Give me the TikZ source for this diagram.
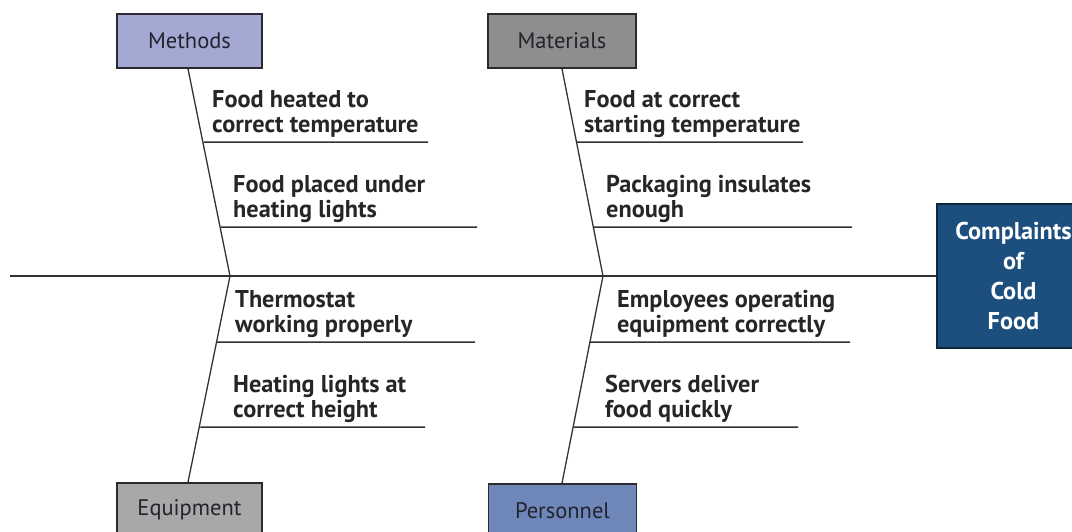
\documentclass[tikz,border=0pt]{standalone}
\usepackage{fontspec}
\setmainfont{PT Sans}
\definecolor{linecol}{HTML}{333333}
\definecolor{boxline}{HTML}{2A2A30}
\definecolor{methodsfill}{HTML}{A3A9D3}
\definecolor{materialsfill}{HTML}{8E8E8E}
\definecolor{equipfill}{HTML}{A8A8A8}
\definecolor{personnelfill}{HTML}{6E87B8}
\definecolor{goalfill}{HTML}{1C4E7E}
\definecolor{goalline}{HTML}{10263C}
\definecolor{labeltext}{HTML}{23232E}
\definecolor{causetext}{HTML}{262626}
\begin{document}
\begin{tikzpicture}[x=1pt,y=-1pt,
  catbox/.style={draw=boxline, line width=1.6pt, minimum width=145pt, minimum height=54pt, inner sep=0pt, text=labeltext, font=\fontsize{22.5}{25}\selectfont},
  cause/.style={anchor=south west, inner sep=0pt, align=left, text depth=0pt, text=causetext, font=\bfseries\fontsize{24.3}{25.5}\selectfont},
  bone/.style={draw=linecol, line width=1.3pt},
  rib/.style={draw=linecol, line width=1.5pt},
  spine/.style={draw=linecol, line width=2.8pt},
  goalbox/.style={draw=goalline, fill=goalfill, line width=1.6pt, minimum width=153pt, minimum height=144pt, inner sep=0pt, align=center, text=white, font=\bfseries\fontsize{24.3}{30}\selectfont}
]
\useasboundingbox (0,0) rectangle (1072,531);
\clip (0,0) rectangle (1072,531);
\fill[white] (0,0) rectangle (1072,531);

% category boxes
\node[catbox, fill=methodsfill] (methods) at (189.5,41) {Methods};
\node[catbox, fill=materialsfill, minimum width=148pt] (materials) at (562,41) {Materials};
\node[catbox, fill=equipfill] (equipment) at (189.5,510) {Equipment};
\node[catbox, fill=personnelfill, minimum width=148pt] (personnel) at (562.5,511) {Personnel};

% effect
\node[goalbox] (goal) at (1013.5,276) {Complaints\\of\\Cold\\Food};

% spine
\coordinate (tail) at (10,276);
\coordinate (j1) at (230,276);
\coordinate (j2) at (603,276);
\draw[spine] (tail) -- (goal.west);

% bones
\draw[bone] (methods.south -| 188,0) -- (j1) -- (equipment.north -| 188,0);
\draw[bone] (materials.south) -- (j2) -- (personnel.north -| 562,0);

% ribs: methods side
\coordinate (r1) at (intersection of methods.south--j1 and 0,142--1000,142);
\draw[rib] (r1) -- (428,142);
\coordinate (r2) at (intersection of methods.south--j1 and 0,227--1000,227);
\draw[rib] (r2) -- (477,227);
\coordinate (r3) at (intersection of j1--equipment.north and 0,342--1000,342);
\draw[rib] (r3) -- (475,342);
\coordinate (r4) at (intersection of j1--equipment.north and 0,427--1000,427);
\draw[rib] (r4) -- (425,427);
% ribs: materials side
\coordinate (r5) at (intersection of materials.south--j2 and 0,142--1000,142);
\draw[rib] (r5) -- (803,142);
\coordinate (r6) at (intersection of materials.south--j2 and 0,227--1000,227);
\draw[rib] (r6) -- (852,227);
\coordinate (r7) at (intersection of j2--personnel.north and 0,342--1000,342);
\draw[rib] (r7) -- (850,342);
\coordinate (r8) at (intersection of j2--personnel.north and 0,427--1000,427);
\draw[rib] (r8) -- (798,427);

% cause texts
\node[cause] (c1) at (212,133) {Food heated to\\correct temperature};
\node[cause] (c2) at (233,218) {Food placed under\\heating lights};
\node[cause] (c3) at (235,333) {Thermostat\\working properly};
\node[cause] (c4) at (233,418) {Heating lights at\\correct height};
\node[cause] (c5) at (584,133) {Food at correct\\starting temperature};
\node[cause] (c6) at (606,218) {Packaging insulates\\enough};
\node[cause] (c7) at (617,333) {Employees operating\\equipment correctly};
\node[cause] (c8) at (605,418) {Servers deliver\\food quickly};
\end{tikzpicture}
\end{document}
